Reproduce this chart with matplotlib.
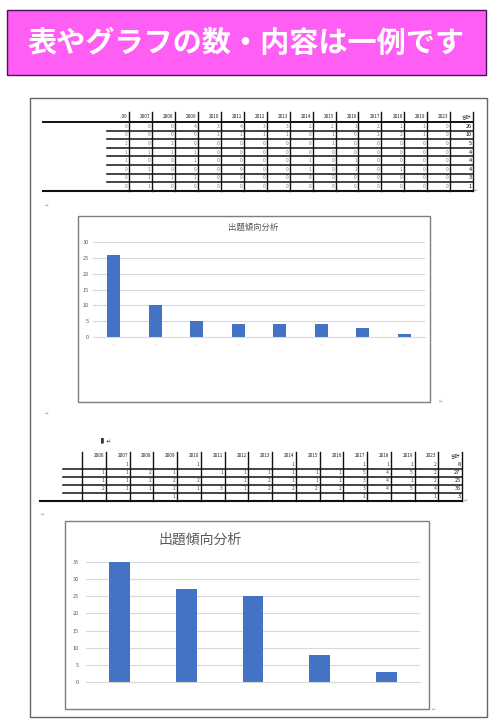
import matplotlib
matplotlib.use("Agg")
import matplotlib.pyplot as plt
from matplotlib.patches import Rectangle

plt.rcParams["font.family"] = ["Noto Sans CJK JP", "DejaVu Sans"]

# Canvas size in pixels (dpi 100)
W, H = 495, 726

banner_text = "表やグラフの数・内容は一例です"
chart_title = "出題傾向分析"

# ---------------- data ----------------
# table 1 (upper page)
t1_headers = ["..06", "2007", "2008", "2009", "2010", "2011", "2012", "2013",
              "2014", "2015", "2016", "2017", "2018", "2019", "2023", "合計"]
t1_rows = [
    [0, 0, 0, 4, 3, 4, 3, 3, 2, 2, 1, 2, 1, 1, 0],
    [0, 0, 0, 0, 1, 1, 1, 1, 0, 1, 0, 2, 2, 1, 0],
    [2, 0, 2, 0, 0, 0, 0, 0, 0, 1, 0, 0, 0, 0, 0],
    [1, 1, 1, 1, 0, 0, 0, 0, 0, 0, 0, 0, 0, 0, 0],
    [1, 0, 0, 1, 0, 0, 0, 0, 1, 0, 1, 0, 0, 0, 0],
    [0, 1, 0, 0, 0, 0, 0, 0, 1, 0, 1, 0, 1, 0, 0],
    [0, 1, 1, 1, 0, 0, 0, 0, 0, 0, 0, 0, 0, 0, 0],
    [0, 1, 0, 0, 0, 0, 0, 0, 0, 0, 0, 0, 0, 0, 0],
]
t1_totals = [26, 10, 5, 4, 4, 4, 3, 1]

# table 2 (lower page), None = empty cell
t2_headers = ["2006", "2007", "2008", "2009", "2010", "2011", "2012", "2013",
              "2014", "2015", "2016", "2017", "2018", "2019", "2023", "合計"]
t2_rows = [
    [None, 1, None, None, 1, None, None, None, 1, None, None, 1, 1, 1, 2],
    [1, 1, 2, 1, None, 1, 1, 1, 1, 1, 1, 5, 4, 5, 2],
    [1, 1, 2, 2, 2, None, 2, 2, 1, 1, 1, 3, 4, 1, 2],
    [2, 1, 1, 2, 1, 3, 1, 2, 2, 2, 2, 3, 4, 5, 4],
    [None, None, None, 1, None, None, None, None, None, None, None, 1, None, None, 1],
]
t2_totals = [8, 27, 25, 35, 3]

# charts
chart1_labels = ["-", "-", "-", "-", "-", "-", "-", "-"]
chart1_values = [26, 10, 5, 4, 4, 4, 3, 1]
chart2_values = [35, 27, 25, 8, 3]

BAR = "#4472C4"
GRID = "#D9D9D9"
TXT = "#595959"


def axes_px(fig, x0, y0, x1, y1):
    """Add axes from pixel box (origin top-left)."""
    return fig.add_axes([x0 / W, 1 - y1 / H, (x1 - x0) / W, (y1 - y0) / H])


def fmt(v):
    return "" if v is None else str(v)


def draw_table(ax, headers, rows, totals, col_x0, col_w, y_top, head_y,
               row_y0, row_h, sep_x0, outer_x0, left_line, head_line,
               val_color):
    ncol = len(headers)
    x_right = col_x0 + col_w * ncol
    y_bot = row_y0 + row_h * len(rows)
    # vertical lines
    start = 0 if left_line else 1
    for i in range(start, ncol + 1):
        x = col_x0 + col_w * i
        ax.plot([x, x], [y_top, y_bot], color="#111111", lw=1.0)
    # header labels
    for i, h in enumerate(headers):
        ax.text(col_x0 + col_w * (i + 1) - 1.5, head_y, h, ha="right",
                va="center", fontsize=3.4, color="#222222")
    if head_line:
        ax.plot([outer_x0, x_right], [row_y0, row_y0], color="#111111", lw=1.4)
    # row separators
    for r in range(1, len(rows)):
        y = row_y0 + row_h * r
        ax.plot([sep_x0, x_right], [y, y], color="#111111", lw=1.1)
    ax.plot([outer_x0, x_right], [y_bot, y_bot], color="#111111", lw=1.5)
    # cell values
    for r, (vals, tot) in enumerate(zip(rows, totals)):
        yc = row_y0 + row_h * (r + 0.5)
        for i, v in enumerate(vals + [tot]):
            last = i == ncol - 1
            ax.text(col_x0 + col_w * (i + 1) - 1.5, yc, fmt(v), ha="right",
                    va="center", fontsize=4.0 if last else 3.6,
                    color="#111111" if last else val_color)


fig = plt.figure(figsize=(W / 100, H / 100), dpi=100)
page = fig.add_axes([0, 0, 1, 1])
page.set_xlim(0, W)
page.set_ylim(H, 0)
page.axis("off")

# banner
page.add_patch(Rectangle((7, 10), 479, 65, facecolor="#FF5EF5",
                         edgecolor="#4A1060", lw=1.0))
page.text(245.5, 42.5, banner_text, ha="center", va="center", fontsize=21,
          fontweight="bold", color="white")

# document page
page.add_patch(Rectangle((30, 98), 457, 619, facecolor="white",
                         edgecolor="#666666", lw=1.0))

# tables
draw_table(page, t1_headers, t1_rows, t1_totals, col_x0=106.3, col_w=22.92,
           y_top=112, head_y=117, row_y0=122, row_h=8.6, sep_x0=107,
           outer_x0=43, left_line=False, head_line=True, val_color="#7A7A7A")
draw_table(page, t2_headers, t2_rows, t2_totals, col_x0=82, col_w=23.75,
           y_top=452, head_y=455.5, row_y0=461, row_h=8.0, sep_x0=63,
           outer_x0=40, left_line=True, head_line=False, val_color="#4A4A4A")

# small paragraph marks
for (x, y) in [(476, 190), (47, 205), (441, 401), (47, 413), (466, 500),
               (43, 514), (434, 709)]:
    page.text(x, y, "↵", fontsize=3.5, color="#999999", ha="center",
              va="center")
page.text(106, 441, "▌↵", fontsize=4, color="#333333", ha="center",
          va="center")

# chart boxes and titles
page.add_patch(Rectangle((78, 216), 352, 186, facecolor="white",
                         edgecolor="#7F7F7F", lw=1.0))
page.text(253, 227, chart_title, ha="center", va="center", fontsize=6,
          color=TXT)
page.add_patch(Rectangle((65, 521), 364, 188, facecolor="white",
                         edgecolor="#7F7F7F", lw=1.0))
page.text(200, 540, chart_title, ha="center", va="center", fontsize=10,
          color=TXT)


def style_chart(ax, ymax, step, label_pad):
    ax.set_ylim(0, ymax)
    ax.set_yticks(range(0, ymax + 1, step))
    ax.yaxis.grid(True, color=GRID, lw=0.8)
    ax.set_axisbelow(True)
    for s in ["top", "right", "left"]:
        ax.spines[s].set_visible(False)
    ax.spines["bottom"].set_color(GRID)
    ax.spines["bottom"].set_linewidth(0.8)
    ax.tick_params(axis="y", length=0, labelsize=4, labelcolor=TXT,
                   pad=label_pad)
    ax.patch.set_alpha(0)


# chart 1
ax1 = axes_px(fig, 93, 242, 425, 337)
ax1.bar(range(len(chart1_values)), chart1_values, width=0.31, color=BAR)
ax1.set_xlim(-0.5, len(chart1_values) - 0.5)
style_chart(ax1, 30, 5, 3)
ax1.set_xticks(range(len(chart1_labels)))
ax1.set_xticklabels(chart1_labels)
ax1.tick_params(axis="x", length=0, labelsize=3.5, labelcolor="#A6A6A6", pad=4)

# chart 2
ax2 = axes_px(fig, 86, 562, 420, 682)
ax2.bar(range(len(chart2_values)), chart2_values, width=0.31, color=BAR)
ax2.set_xlim(-0.5, len(chart2_values) - 0.5)
style_chart(ax2, 35, 5, 5)
ax2.set_xticks([])

fig.savefig("out.png", dpi=100)
